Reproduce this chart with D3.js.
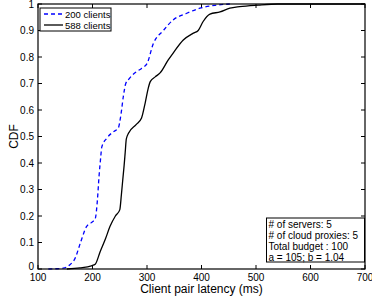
<!DOCTYPE html>
<html>
<head>
<meta charset="utf-8">
<script src="https://cdn.jsdelivr.net/npm/d3@7"></script>
<style>
  body { margin: 0; background: #fff; }
  text { font-family: "Liberation Sans", Arial, sans-serif; }
</style>
</head>
<body>
<div id="chart"></div>
<script>
// CDF points: [latency ms, cdf]
const clients200 = [
  [119, 0], [146, 0.003], [158, 0.015], [168, 0.04], [178, 0.1], [189, 0.16], [198, 0.175],
  [205, 0.19], [209, 0.26], [212, 0.35], [215, 0.42], [217, 0.46], [226, 0.493], [240, 0.52],
  [247, 0.53], [252, 0.58], [256.5, 0.65], [261, 0.70], [266, 0.715], [281, 0.745],
  [290, 0.757], [300, 0.775], [311.5, 0.85], [330, 0.9], [348, 0.94], [373, 0.965],
  [397, 0.984], [425, 0.995], [452, 1.0]
];
const clients588 = [
  [153, 0], [177, 0.004], [198, 0.012], [205, 0.018], [214, 0.065], [224, 0.115],
  [232, 0.16], [242, 0.2], [250, 0.223], [253, 0.28], [255.5, 0.336], [258, 0.39],
  [260, 0.44], [262, 0.49], [266, 0.512], [280, 0.545], [290, 0.57], [297, 0.63],
  [302, 0.68], [306, 0.707], [315, 0.725], [324, 0.74], [339, 0.789], [348, 0.815],
  [366.6, 0.864], [385, 0.89], [394, 0.90], [403, 0.934], [415.6, 0.962], [434, 0.97],
  [452, 0.984], [470, 0.99], [504, 0.996], [540, 1.0], [700, 1.0]
];
const seriesNames = ['200 clients', '588 clients'];
const xTicks = [100, 200, 300, 400, 500, 600, 700];
const yTicks = [0, 0.1, 0.2, 0.3, 0.4, 0.5, 0.6, 0.7, 0.8, 0.9, 1];
const infoLines = ['# of servers: 5', '# of cloud proxies: 5', 'Total budget : 100', 'a = 105; b = 1.04'];

const width = 372, height = 301;
const margin = {top: 4, right: 7, bottom: 32, left: 38};

const svg = d3.create('svg')
  .attr('width', width)
  .attr('height', height);

const x = d3.scaleLinear().domain([100, 700]).range([margin.left, width - margin.right]);
const y = d3.scaleLinear().domain([0, 1]).range([height - margin.bottom, margin.top]);

// ticks pointing inward on all four sides
const tickLen = 4;
const axisG = svg.append('g').attr('stroke', '#000').attr('stroke-width', 1);
xTicks.forEach(t => {
  axisG.append('line').attr('x1', x(t)).attr('x2', x(t)).attr('y1', y(0)).attr('y2', y(0) - tickLen);
  axisG.append('line').attr('x1', x(t)).attr('x2', x(t)).attr('y1', y(1)).attr('y2', y(1) + tickLen);
});
yTicks.forEach(t => {
  axisG.append('line').attr('x1', x(100)).attr('x2', x(100) + tickLen).attr('y1', y(t)).attr('y2', y(t));
  axisG.append('line').attr('x1', x(700)).attr('x2', x(700) - tickLen).attr('y1', y(t)).attr('y2', y(t));
});

svg.append('g')
  .selectAll('text')
  .data(xTicks)
  .join('text')
  .attr('x', d => x(d))
  .attr('y', y(0) + 12)
  .attr('text-anchor', 'middle')
  .attr('font-size', '10px')
  .text(d => d);

svg.append('g')
  .selectAll('text')
  .data(yTicks)
  .join('text')
  .attr('x', x(100) - 4)
  .attr('y', d => y(d) + (d === 0 ? 1 : 3.5))
  .attr('text-anchor', 'end')
  .attr('font-size', '10px')
  .text(d => d);

const line = d3.line().x(d => x(d[0])).y(d => y(d[1])).curve(d3.curveMonotoneX);

svg.append('path')
  .datum(clients588)
  .attr('d', line)
  .attr('fill', 'none')
  .attr('stroke', '#000')
  .attr('stroke-width', 1.3);

svg.append('path')
  .datum(clients200)
  .attr('d', line)
  .attr('fill', 'none')
  .attr('stroke', '#0000ff')
  .attr('stroke-width', 1.3)
  .attr('stroke-dasharray', '4,3');

// frame
svg.append('rect')
  .attr('x', x(100)).attr('y', y(1))
  .attr('width', x(700) - x(100)).attr('height', y(0) - y(1))
  .attr('fill', 'none').attr('stroke', '#000').attr('stroke-width', 1.2);

// legend
const leg = svg.append('g').attr('transform', 'translate(40,8)');
leg.append('rect').attr('width', 71).attr('height', 23)
  .attr('fill', '#fff').attr('stroke', '#000').attr('stroke-width', 1);
seriesNames.forEach((name, i) => {
  const ly = 6 + i * 11;
  leg.append('line').attr('x1', 4).attr('x2', 23).attr('y1', ly).attr('y2', ly)
    .attr('stroke', i === 0 ? '#0000ff' : '#000').attr('stroke-width', 1.3)
    .attr('stroke-dasharray', i === 0 ? '4,3' : null);
  leg.append('text').attr('x', 25).attr('y', ly + 3.5).attr('font-size', '9.5px').text(name);
});

// info box
const info = svg.append('g').attr('transform', 'translate(266.5,218)');
info.append('rect').attr('width', 98).attr('height', 44)
  .attr('fill', '#fff').attr('stroke', '#000').attr('stroke-width', 1);
infoLines.forEach((t, i) => {
  info.append('text').attr('x', 2).attr('y', 9.5 + i * 11).attr('font-size', '10px').text(t);
});

// axis titles
svg.append('text')
  .attr('x', (x(100) + x(700)) / 2)
  .attr('y', 293)
  .attr('text-anchor', 'middle')
  .attr('font-size', '12px')
  .text('Client pair latency (ms)');

svg.append('text')
  .attr('transform', `translate(18, ${(y(0) + y(1)) / 2}) rotate(-90)`)
  .attr('text-anchor', 'middle')
  .attr('font-size', '12px')
  .text('CDF');

document.getElementById('chart').appendChild(svg.node());
</script>
</body>
</html>
